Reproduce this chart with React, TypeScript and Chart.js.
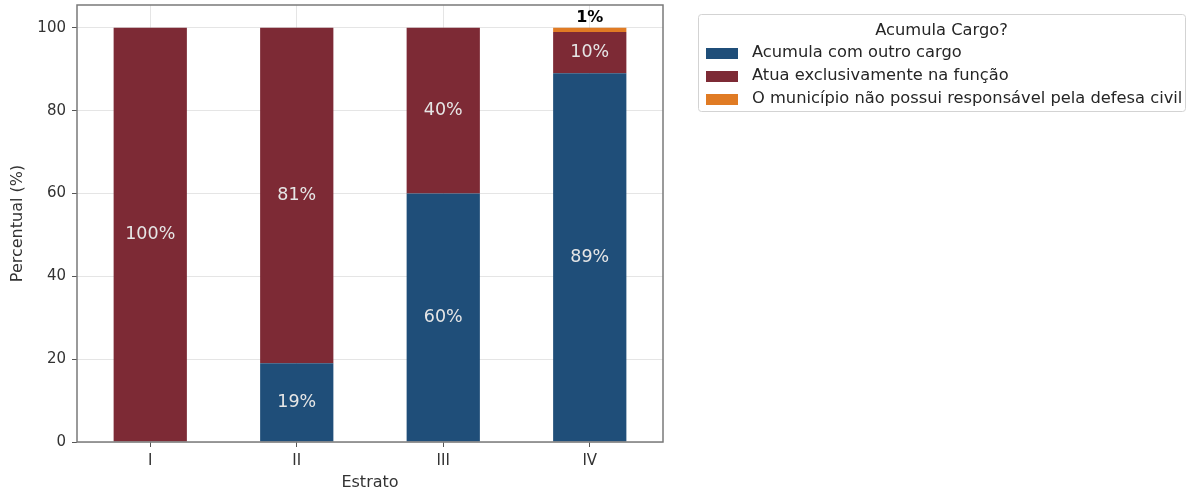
import React, { useEffect, useRef } from 'react';
import { Chart, registerables } from 'chart.js';

Chart.register(...registerables);

const categories = ['I', 'II', 'III', 'IV'];
const seriesNames = [
  'Acumula com outro cargo',
  'Atua exclusivamente na função',
  'O município não possui responsável pela defesa civil',
];
const acumulaValues = [0, 19, 60, 89];
const exclusivoValues = [100, 81, 40, 10];
const semResponsavelValues = [0, 0, 0, 1];
const seriesColors = ['#1f4e79', '#7d2a35', '#e07b24'];
const yTickValues = [0, 20, 40, 60, 80, 100];
const legendTitle = 'Acumula Cargo?';
const xTitle = 'Estrato';
const yTitle = 'Percentual (%)';

const FONT = "'DejaVu Sans', sans-serif";

const framePlugin = {
  id: 'frame',
  afterDraw(chart: any) {
    const { ctx, chartArea: a } = chart;
    ctx.save();
    ctx.strokeStyle = '#7a7a7a';
    ctx.lineWidth = 1.5;
    ctx.strokeRect(a.left, a.top, a.right - a.left, a.bottom - a.top);
    ctx.restore();
  },
};

const labelPlugin = {
  id: 'segLabels',
  afterDraw(chart: any) {
    const { ctx } = chart;
    ctx.save();
    ctx.textAlign = 'center';
    ctx.textBaseline = 'middle';
    chart.data.datasets.forEach((ds: any, i: number) => {
      const meta = chart.getDatasetMeta(i);
      ds.data.forEach((v: number, j: number) => {
        if (!v) return;
        const bar: any = meta.data[j];
        const text = `${v}%`;
        if (v >= 5) {
          ctx.font = `17.5px ${FONT}`;
          ctx.fillStyle = '#e6e6e6';
          ctx.fillText(text, bar.x, (bar.y + bar.base) / 2);
        } else {
          ctx.font = `bold 16px ${FONT}`;
          ctx.fillStyle = '#000';
          ctx.fillText(text, bar.x, bar.y - 10);
        }
      });
    });
    ctx.restore();
  },
};

const legendPlugin = {
  id: 'customLegend',
  afterDraw(chart: any) {
    const { ctx } = chart;
    const x = 698, y = 14, w = 487, h = 97;
    ctx.save();
    ctx.strokeStyle = '#d3d3d3';
    ctx.lineWidth = 1;
    ctx.beginPath();
    (ctx as any).roundRect(x + 0.5, y + 0.5, w, h, 3);
    ctx.stroke();
    ctx.font = `16.3px ${FONT}`;
    ctx.fillStyle = '#262626';
    ctx.textAlign = 'center';
    ctx.textBaseline = 'middle';
    ctx.fillText(legendTitle, x + w / 2, 31);
    ctx.textAlign = 'left';
    chart.data.datasets.forEach((ds: any, i: number) => {
      const cy = 53 + i * 23;
      ctx.fillStyle = ds.backgroundColor;
      ctx.fillRect(706, cy - 5, 32, 11);
      ctx.fillStyle = '#262626';
      ctx.fillText(ds.label, 752, cy);
    });
    ctx.restore();
  },
};

export default function App() {
  const canvasRef = useRef<HTMLCanvasElement | null>(null);

  useEffect(() => {
    document.body.style.margin = '0';
    const canvas = canvasRef.current;
    if (!canvas) return;
    const valueSets = [acumulaValues, exclusivoValues, semResponsavelValues];
    const gridColor = 'rgba(190,190,190,0.4)';
    const chart = new Chart(canvas, {
      type: 'bar',
      data: {
        labels: categories,
        datasets: valueSets.map((vals, i) => ({
          label: seriesNames[i],
          data: vals,
          backgroundColor: seriesColors[i],
          borderWidth: 0,
          barPercentage: 0.5,
          categoryPercentage: 1,
          stack: 's',
        })),
      },
      options: {
        responsive: false,
        devicePixelRatio: 1,
        animation: false,
        layout: { padding: { top: 5, right: 1187 - 663, left: 0, bottom: 0 } },
        plugins: {
          legend: { display: false },
          tooltip: { enabled: false },
        },
        scales: {
          x: {
            stacked: true,
            offset: true,
            z: 1,
            grid: {
              offset: false,
              color: gridColor,
              tickColor: '#555',
              tickLength: 5,
              drawOnChartArea: true,
            },
            border: { display: false },
            ticks: { font: { family: FONT, size: 15 }, color: '#333', padding: 5 },
            title: {
              display: true,
              text: xTitle,
              font: { family: FONT, size: 16 },
              color: '#333',
              padding: { top: 0, bottom: 0 },
            },
            afterFit: (s: any) => {
              s.height = 50;
              s.paddingLeft = 0;
              s.paddingRight = 0;
            },
          },
          y: {
            stacked: true,
            min: 0,
            max: 105.5,
            z: 1,
            afterBuildTicks: (s: any) => {
              s.ticks = yTickValues.map((v) => ({ value: v }));
            },
            grid: {
              color: gridColor,
              tickColor: '#555',
              tickLength: 5,
            },
            border: { display: false },
            ticks: { font: { family: FONT, size: 15 }, color: '#333', padding: 6 },
            title: {
              display: true,
              text: yTitle,
              font: { family: FONT, size: 16 },
              color: '#333',
              padding: { top: 8, bottom: 0 },
            },
            afterFit: (s: any) => {
              s.width = 77;
              s.paddingTop = 0;
              s.paddingBottom = 0;
            },
          },
        },
      },
      plugins: [framePlugin, labelPlugin, legendPlugin],
    } as any);
    return () => chart.destroy();
  }, []);

  return (
    <div style={{ width: 1187, height: 492, background: '#fff' }}>
      <canvas ref={canvasRef} width={1187} height={492} />
    </div>
  );
}
